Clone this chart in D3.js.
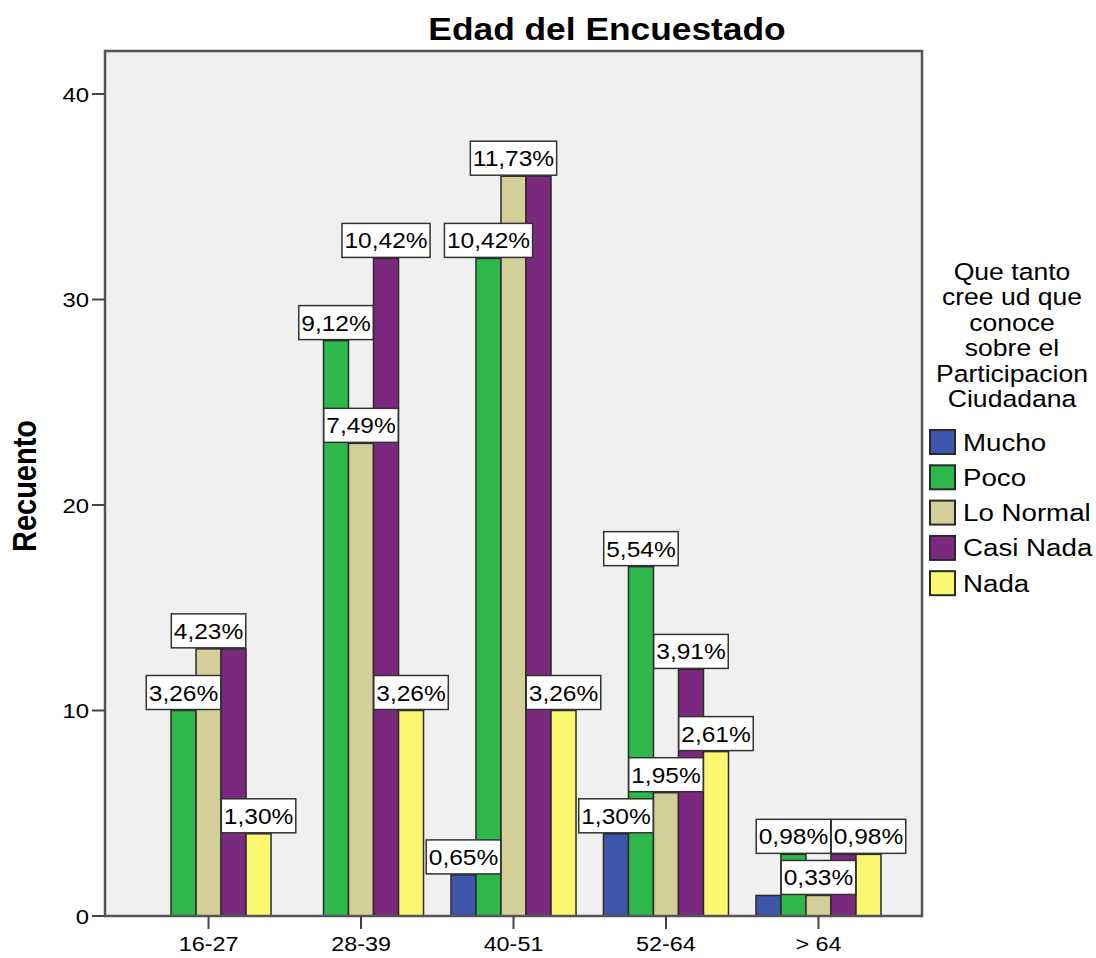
<!DOCTYPE html>
<html>
<head>
<meta charset="utf-8">
<script src="https://cdn.jsdelivr.net/npm/d3@7"></script>
<style>
  html, body { margin: 0; padding: 0; background: #ffffff; }
  svg { display: block; }
  text { font-family: "Liberation Sans", Arial, sans-serif; fill: #000; }
</style>
</head>
<body>
<svg id="chart" width="1096" height="958"></svg>
<script>
// ---- data ----
const categories = ["16-27", "28-39", "40-51", "52-64", "> 64"];
const seriesNames = ["Mucho", "Poco", "Lo Normal", "Casi Nada", "Nada"];
const mucho    = [0, 0, 2, 4, 1];
const poco     = [10, 28, 32, 17, 3];
const loNormal = [13, 23, 36, 6, 1];
const casiNada = [13, 32, 36, 12, 3];
const nada     = [4, 10, 10, 8, 3];
const yTicks = [0, 10, 20, 30, 40];
const titleText = "Edad del Encuestado";
const yTitle = "Recuento";
const legendTitle = ["Que tanto", "cree ud que", "conoce", "sobre el", "Participacion", "Ciudadana"];
const colors = ["#3D56AB", "#2EB84A", "#D4CE98", "#7A297E", "#FBF770"];

const seriesValues = [mucho, poco, loNormal, casiNada, nada];
const total = d3.sum(seriesValues.flat());

const SX = 1.14; // horizontal stretch of the reference's glyphs
const svg = d3.select("#chart");

function txt(parent, x, y, str, size, opts = {}) {
  const t = parent.append("text")
    .attr("transform", `translate(${x},${y}) scale(${SX},1)`)
    .attr("font-size", size)
    .attr("text-anchor", opts.anchor || "start")
    .text(str);
  if (opts.bold) t.attr("font-weight", "bold");
  return t;
}

// ---- layout ----
const plot = { left: 105, right: 922, top: 51, bottom: 916 };

const x0 = d3.scaleBand()
  .domain(categories)
  .range([plot.left, plot.right])
  .paddingInner(0.18)
  .paddingOuter(0.269);

const x1 = d3.scaleBand()
  .domain(seriesNames)
  .range([0, x0.bandwidth()])
  .padding(0);

const y = d3.scaleLinear().domain([0, 40]).range([plot.bottom, 94]);

// background
svg.append("rect")
  .attr("x", plot.left).attr("y", plot.top)
  .attr("width", plot.right - plot.left).attr("height", plot.bottom - plot.top)
  .attr("fill", "#F0F0F0");

// bars
const barData = [];
categories.forEach((c, ci) => {
  seriesNames.forEach((s, si) => {
    barData.push({ cat: c, ser: s, si, value: seriesValues[si][ci] });
  });
});

svg.append("g").selectAll("rect")
  .data(barData.filter(d => d.value > 0))
  .join("rect")
  .attr("x", d => x0(d.cat) + x1(d.ser))
  .attr("y", d => y(d.value))
  .attr("width", x1.bandwidth())
  .attr("height", d => y(0) - y(d.value))
  .attr("fill", d => colors[d.si])
  .attr("stroke", "#2a2a2a")
  .attr("stroke-width", 1.5);

// frame
svg.append("rect")
  .attr("x", plot.left).attr("y", plot.top)
  .attr("width", plot.right - plot.left).attr("height", plot.bottom - plot.top)
  .attr("fill", "none")
  .attr("stroke", "#555")
  .attr("stroke-width", 2.5);

// y axis ticks
const yAxisG = svg.append("g");
yTicks.forEach(v => {
  yAxisG.append("line")
    .attr("x1", plot.left - 13).attr("x2", plot.left)
    .attr("y1", y(v)).attr("y2", y(v))
    .attr("stroke", "#444").attr("stroke-width", 2);
  txt(yAxisG, plot.left - 16, y(v) + 7.5, String(v), 21, { anchor: "end" });
});

// x axis ticks
const xAxisG = svg.append("g");
categories.forEach(c => {
  const cx = x0(c) + x0.bandwidth() / 2;
  xAxisG.append("line")
    .attr("x1", cx).attr("x2", cx)
    .attr("y1", plot.bottom).attr("y2", plot.bottom + 13)
    .attr("stroke", "#444").attr("stroke-width", 2);
  txt(xAxisG, cx, 951, c, 20.5, { anchor: "middle" });
});

// titles
txt(svg, 607, 40, titleText, 31, { anchor: "middle", bold: true });
svg.append("text")
  .attr("transform", `translate(36,486) rotate(-90) scale(1,${SX})`)
  .attr("font-size", 29)
  .attr("font-weight", "bold")
  .attr("text-anchor", "middle")
  .text(yTitle);

// data labels with greedy collision avoidance
const labelPriority = ["Poco", "Lo Normal", "Nada", "Casi Nada", "Mucho"];
const placed = [];
const labelG = svg.append("g");
const fmt = v => (v / total * 100).toFixed(2).replace(".", ",") + "%";
const labelCandidates = barData.filter(d => d.value > 0)
  .sort((a, b) => labelPriority.indexOf(a.ser) - labelPriority.indexOf(b.ser));
const tol = 2;

labelCandidates.forEach(d => {
  const str = fmt(d.value);
  const cx = x0(d.cat) + x1(d.ser) + x1.bandwidth() / 2;
  const bottom = y(d.value) - 1;
  const h = 34;
  const tmp = txt(labelG, 0, 0, str, 21.5);
  const w = tmp.node().getBBox().width * SX + 5;
  tmp.remove();
  const box = { x0: cx - w / 2, x1: cx + w / 2, y0: bottom - h, y1: bottom };
  const overlaps = placed.some(p => !(box.x1 - tol <= p.x0 || box.x0 + tol >= p.x1 || box.y1 - tol <= p.y0 || box.y0 + tol >= p.y1));
  if (overlaps) return;
  placed.push(box);
  labelG.append("rect")
    .attr("x", box.x0).attr("y", box.y0)
    .attr("width", w).attr("height", h)
    .attr("fill", "#fff")
    .attr("stroke", "#333").attr("stroke-width", 1.5);
  txt(labelG, cx, bottom - h / 2 + 8, str, 21.5, { anchor: "middle" });
});

// legend
const legG = svg.append("g");
legendTitle.forEach((line, i) => {
  txt(legG, 1012, 280 + i * 25.4, line, 23.3, { anchor: "middle" });
});
seriesNames.forEach((s, i) => {
  const cy = 442 + i * 35.3;
  legG.append("rect")
    .attr("x", 930).attr("y", cy - 12)
    .attr("width", 25).attr("height", 24)
    .attr("fill", colors[i])
    .attr("stroke", "#2a2a2a").attr("stroke-width", 2);
  txt(legG, 963, cy + 8.5, s, 24.3);
});
</script>
</body>
</html>
